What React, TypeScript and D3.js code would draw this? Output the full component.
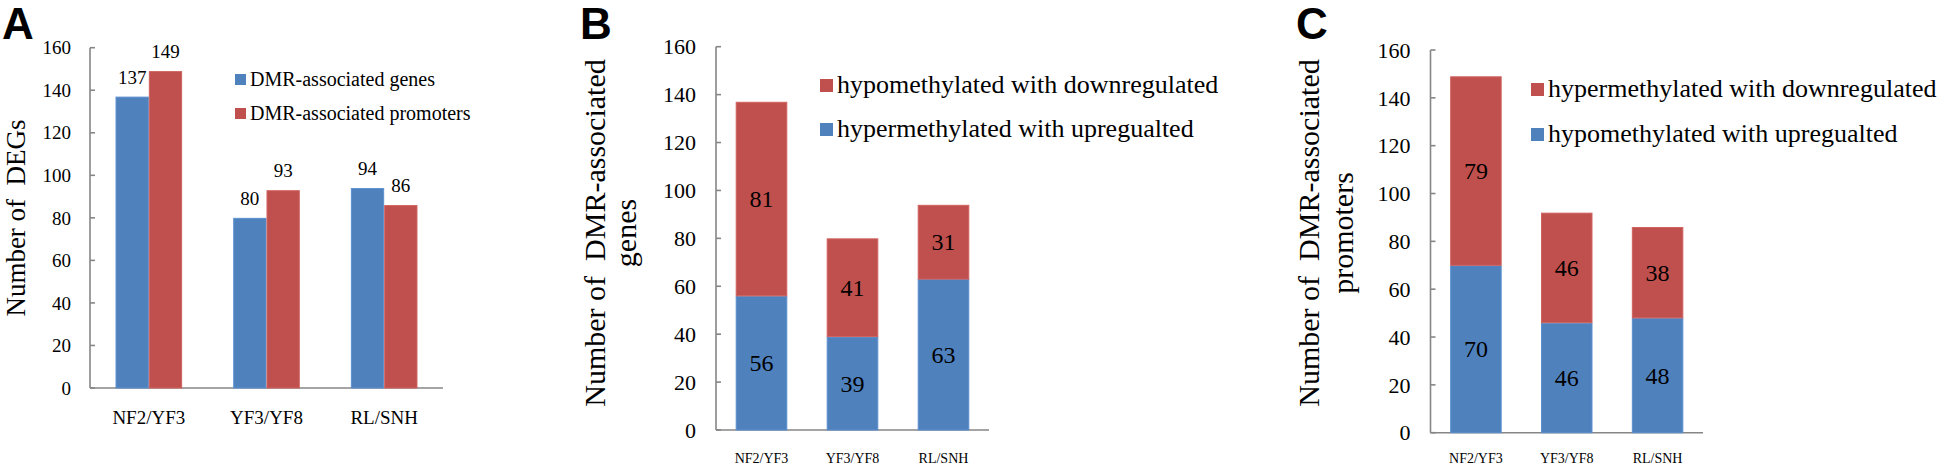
import React from 'react';
import * as d3 from 'd3';

const categories = ['NF2/YF3', 'YF3/YF8', 'RL/SNH'];
const yTicks = [0, 20, 40, 60, 80, 100, 120, 140, 160];

// panel A
const genesDEGs = [137, 80, 94];
const promotersDEGs = [149, 93, 86];
// panel B
const genesHyperUp = [56, 39, 63];
const genesHypoDown = [81, 41, 31];
// panel C
const promotersHypoUp = [70, 46, 48];
const promotersHyperDown = [79, 46, 38];

const BLUE = '#4f81bd';
const RED = '#c0504d';
const BLUE_EDGE = '#5b8fd0';
const RED_EDGE = '#d0625f';
const AXIS = '#868686';
const SERIF = '"Liberation Serif", "Times New Roman", serif';
const SANS = '"Liberation Sans", Arial, sans-serif';

type AxisProps = {
  x: d3.ScaleBand<string>;
  y: d3.ScaleLinear<number, number>;
  tickFont: number;
  tickGap: number;
  catFont: number;
  catY: number;
};

const Axes = ({ x, y, tickFont, tickGap, catFont, catY }: AxisProps) => {
  const [x0, x1] = x.range();
  return (
    <g>
      <line x1={x0} x2={x0} y1={y(160)} y2={y(0)} stroke={AXIS} strokeWidth={1.6} />
      <line x1={x0} x2={x1} y1={y(0)} y2={y(0)} stroke={AXIS} strokeWidth={1.6} />
      {yTicks.map((t) => (
        <g key={t}>
          <line x1={x0} x2={x0 + 5} y1={y(t)} y2={y(t)} stroke={AXIS} strokeWidth={1.6} />
          <text
            x={x0 - tickGap}
            y={y(t)}
            dy="0.35em"
            textAnchor="end"
            fontFamily={SERIF}
            fontSize={tickFont}
          >
            {t}
          </text>
        </g>
      ))}
      {categories.map((c) => (
        <text
          key={c}
          x={(x(c) ?? 0) + x.bandwidth() / 2}
          y={catY}
          textAnchor="middle"
          fontFamily={SERIF}
          fontSize={catFont}
        >
          {c}
        </text>
      ))}
    </g>
  );
};

const Legend = ({ x, ys, size, font, items }: { x: number; ys: number[]; size: number; font: number; items: [string, string][] }) => (
  <g>
    {items.map(([label, color], i) => (
      <g key={label}>
        <rect x={x} y={ys[i] - size - 1} width={size} height={size} fill={color} />
        <text x={x + size + 4} y={ys[i]} fontFamily={SERIF} fontSize={font}>
          {label}
        </text>
      </g>
    ))}
  </g>
);

const edgeOf = (c: string) => (c === BLUE ? BLUE_EDGE : RED_EDGE);

const PanelA = () => {
  const x = d3.scaleBand<string>().domain(categories).range([90, 443]).paddingInner(0.434).paddingOuter(0.217);
  const y = d3.scaleLinear().domain([0, 160]).range([388, 47.7]);
  const sub = d3.scaleBand<number>().domain([0, 1]).range([0, x.bandwidth()]);
  const series = [
    { vals: genesDEGs, color: BLUE },
    { vals: promotersDEGs, color: RED },
  ];
  return (
    <g>
      <Axes x={x} y={y} tickFont={19} tickGap={19} catFont={19} catY={424} />
      {series.map((s, si) =>
        s.vals.map((v, i) => {
          const bx = (x(categories[i]) ?? 0) + (sub(si) ?? 0);
          return (
            <g key={`${si}-${i}`}>
              <rect
                x={bx + 0.5}
                y={y(v) + 0.5}
                width={sub.bandwidth() - 1}
                height={y(0) - y(v) - 0.5}
                fill={s.color}
                stroke={edgeOf(s.color)}
                strokeWidth={1}
              />
              <text
                x={bx + sub.bandwidth() / 2}
                y={y(v) - 13}
                textAnchor="middle"
                fontFamily={SERIF}
                fontSize={19}
              >
                {v}
              </text>
            </g>
          );
        })
      )}
      <Legend
        x={235}
        ys={[86, 120]}
        size={11}
        font={20}
        items={[
          ['DMR-associated genes', BLUE],
          ['DMR-associated promoters', RED],
        ]}
      />
      <text transform="translate(25,218) rotate(-90)" textAnchor="middle" fontFamily={SERIF} fontSize={27}>
        Number of{'\u00a0\u00a0'}DEGs
      </text>
      <text x={2} y={39} fontFamily={SANS} fontWeight="bold" fontSize={44}>
        A
      </text>
    </g>
  );
};

type StackProps = {
  range: [number, number];
  yRange: [number, number];
  lower: number[];
  upper: number[];
  legend: [string, string][];
  legendX: number;
  legendYs: number[];
  legendSize: number;
  titleLines: string[];
  titleXs: number[];
  letter: string;
  letterX: number;
};

const StackPanel = (p: StackProps) => {
  const x = d3.scaleBand<string>().domain(categories).range(p.range).paddingInner(0.433).paddingOuter(0.2165);
  const y = d3.scaleLinear().domain([0, 160]).range(p.yRange);
  const stack = d3.stack<number>().keys(['lower', 'upper']).value((i, k) => (k === 'lower' ? p.lower[i] : p.upper[i]));
  const layers = stack(d3.range(categories.length));
  const colors = [BLUE, RED];
  return (
    <g>
      <Axes x={x} y={y} tickFont={22} tickGap={20} catFont={14} catY={463} />
      {layers.map((layer, li) =>
        layer.map((d, i) => {
          const bx = x(categories[i]) ?? 0;
          return (
            <g key={`${li}-${i}`}>
              <rect
                x={bx + 0.5}
                y={y(d[1]) + 0.5}
                width={x.bandwidth() - 1}
                height={y(d[0]) - y(d[1]) - 0.5}
                fill={colors[li]}
                stroke={edgeOf(colors[li])}
                strokeWidth={1}
              />
              <text
                x={bx + x.bandwidth() / 2}
                y={y((d[0] + d[1]) / 2)}
                dy="0.35em"
                textAnchor="middle"
                fontFamily={SERIF}
                fontSize={24}
              >
                {d[1] - d[0]}
              </text>
            </g>
          );
        })
      )}
      <Legend x={p.legendX} ys={p.legendYs} size={p.legendSize} font={26} items={p.legend} />
      {p.titleLines.map((t, i) => (
        <text
          key={t}
          transform={`translate(${p.titleXs[i]},233) rotate(-90)`}
          textAnchor="middle"
          fontFamily={SERIF}
          fontSize={30}
        >
          {t}
        </text>
      ))}
      <text x={p.letterX} y={39} fontFamily={SANS} fontWeight="bold" fontSize={44}>
        {p.letter}
      </text>
    </g>
  );
};

export default function App() {
  return (
    <svg
      width={1946}
      height={468}
      style={{ position: 'absolute', left: 0, top: 0, background: '#fff' }}
    >
      <rect width={1946} height={468} fill="#fff" />
      <PanelA />
      <StackPanel
        range={[716, 989]}
        yRange={[430, 46.7]}
        lower={genesHyperUp}
        upper={genesHypoDown}
        legend={[
          ['hypomethylated with downregulated', RED],
          ['hypermethylated with upregualted', BLUE],
        ]}
        legendX={820}
        legendYs={[93, 137]}
        legendSize={13}
        titleLines={['Number of\u00a0\u00a0DMR-associated', 'genes']}
        titleXs={[605, 636]}
        letter="B"
        letterX={580}
      />
      <StackPanel
        range={[1430.5, 1703]}
        yRange={[432.7, 50]}
        lower={promotersHypoUp}
        upper={promotersHyperDown}
        legend={[
          ['hypermethylated with downregulated', RED],
          ['hypomethylated with upregualted', BLUE],
        ]}
        legendX={1531}
        legendYs={[97, 142]}
        legendSize={13}
        titleLines={['Number of\u00a0\u00a0DMR-associated', 'promoters']}
        titleXs={[1319, 1353]}
        letter="C"
        letterX={1296}
      />
    </svg>
  );
}
